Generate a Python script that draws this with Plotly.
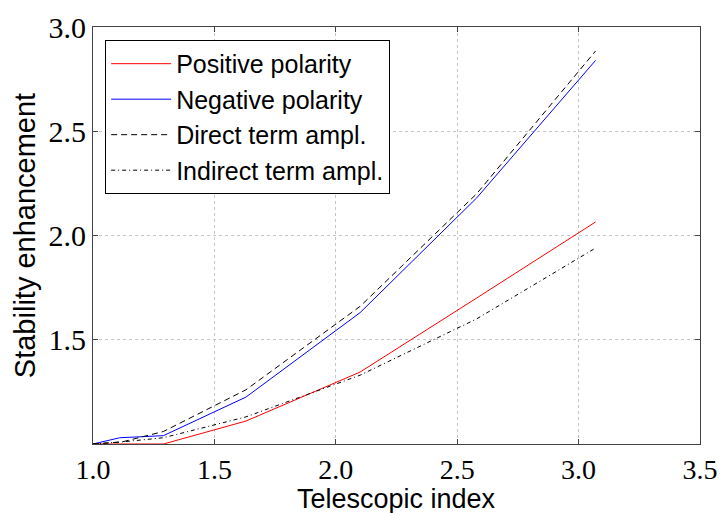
import plotly.graph_objects as go

x_pos = [1.0, 1.12, 1.29, 1.63, 2.1, 2.58, 3.07]
y_pos = [1.0, 1.0, 1.0, 1.11, 1.345, 1.70, 2.065]

x_neg = [1.0, 1.11, 1.29, 1.63, 2.1, 2.58, 3.07]
y_neg = [1.0, 1.03, 1.04, 1.225, 1.63, 2.18, 2.84]

x_dir = [1.0, 1.12, 1.29, 1.63, 2.1, 2.58, 3.07]
y_dir = [1.0, 1.01, 1.06, 1.26, 1.66, 2.2, 2.885]

x_ind = [1.0, 1.12, 1.29, 1.63, 2.1, 2.58, 3.07]
y_ind = [1.0, 1.01, 1.03, 1.13, 1.33, 1.6, 1.94]

x_ticks = [1.0, 1.5, 2.0, 2.5, 3.0, 3.5]
y_ticks = [1.5, 2.0, 2.5, 3.0]

fig = go.Figure()
fig.add_trace(go.Scatter(x=x_pos, y=y_pos, mode="lines", name="Positive polarity",
                         line=dict(color="#ff0000", width=1)))
fig.add_trace(go.Scatter(x=x_neg, y=y_neg, mode="lines", name="Negative polarity",
                         line=dict(color="#0000ff", width=1)))
fig.add_trace(go.Scatter(x=x_dir, y=y_dir, mode="lines", name="Direct term ampl.",
                         line=dict(color="black", width=1, dash="6px,4px")))
fig.add_trace(go.Scatter(x=x_ind, y=y_ind, mode="lines", name="Indirect term ampl.",
                         line=dict(color="black", width=1, dash="4px,3px,1px,3px")))

axis_common = dict(
    showline=True, linecolor="#444444", linewidth=1, mirror="ticks",
    ticks="inside", ticklen=5, tickcolor="#444444",
    showgrid=True, gridcolor="#c4c4c4", griddash="dot", gridwidth=1,
    zeroline=False, automargin=False,
)
serif_font = dict(family="Liberation Serif, DejaVu Serif, serif", size=30, color="black")

fig.update_layout(
    width=722, height=513,
    margin=dict(l=93, r=22, t=27, b=69),
    plot_bgcolor="white", paper_bgcolor="white",
    xaxis=dict(range=[1.0, 3.5], tickvals=x_ticks, ticktext=["1.0", "1.5", "2.0", "2.5", "3.0", "3.5"],
               tickfont=dict(family="Liberation Serif, DejaVu Serif, serif", size=28, color="black"),
               **axis_common),
    yaxis=dict(range=[1.0, 3.0], tickvals=y_ticks, ticktext=["1.5", "2.0", "2.5", "3.0"],
               tickfont=serif_font,
               title=dict(text="Stability enhancement", standoff=4,
                          font=dict(family="Liberation Sans, Arial, sans-serif", size=29, color="black")),
               **axis_common),
    legend=dict(x=0.02, y=0.969, xanchor="left", yanchor="top",
                bordercolor="black", borderwidth=1, bgcolor="white",
                font=dict(family="Liberation Sans, Arial, sans-serif", size=25, color="black"),
                itemwidth=60),
    showlegend=True,
)

fig.add_annotation(text="Telescopic index", xref="paper", yref="paper",
                   x=0.5, y=-0.0935, xanchor="center", yanchor="top", showarrow=False,
                   borderpad=0,
                   font=dict(family="Liberation Sans, Arial, sans-serif", size=27, color="black"))

fig.write_html("out.html")
